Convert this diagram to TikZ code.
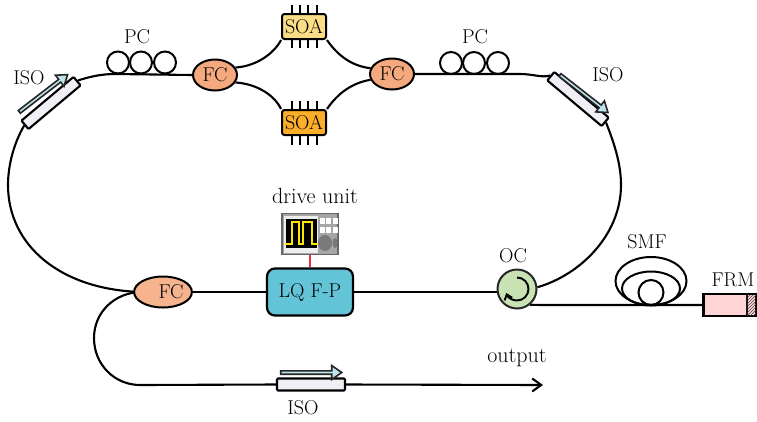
\documentclass[tikz,border=0pt]{standalone}
\usetikzlibrary{shapes.arrows,shapes.geometric,patterns,arrows.meta,backgrounds}
\definecolor{fcfill}{HTML}{F4A97F}
\definecolor{isofill}{HTML}{F2EEF6}
\definecolor{arrowfill}{HTML}{BFE3EC}
\definecolor{fpfill}{HTML}{63C4D8}
\definecolor{ocfill}{HTML}{C9E2B3}
\definecolor{soaone}{HTML}{FBDD85}
\definecolor{soatwo}{HTML}{FBAE2A}
\definecolor{redline}{HTML}{E8303A}
\tikzset{
 fiber/.style={line width=2.1pt,draw=black},
 lab/.style={font=\fontsize{20}{22}\selectfont,text=black,inner sep=0pt},
 widelab/.style={font=\fontsize{22}{24}\selectfont,text=black,inner sep=0pt},
 coupler/.style={ellipse,draw=black,line width=2pt,fill=fcfill,minimum width=44pt,minimum height=31pt,inner sep=0pt,font=\fontsize{20}{22}\selectfont,text=black},
 soa/.style={rectangle,rounded corners=2.5pt,draw=black,line width=2pt,minimum width=44pt,minimum height=25pt,inner sep=0pt,font=\fontsize{20}{22}\selectfont,text=black},
 pin/.style={line width=2pt,draw=black},
 isobody/.style={rectangle,draw=black,line width=2.1pt,fill=isofill,rounded corners=1pt,minimum height=11pt,inner sep=0pt},
 isoarrow/.style={single arrow,draw=black!85,line width=1.6pt,fill=arrowfill,inner sep=0pt,minimum width=14pt,single arrow head extend=2.5pt,single arrow tip angle=70,shape border uses incircle=false},
 pcloop/.style={circle,draw=black,line width=2pt,minimum size=22pt,inner sep=0pt},
}
\begin{document}
\begin{tikzpicture}[x=1pt,y=-1pt]
\useasboundingbox (0,0) rectangle (757,421);
% couplers and amplifiers
\node[coupler] (fca) at (215,75) {FC};
\node[coupler] (fcb) at (392,74) {FC};
\node[coupler,fill=fcfill!88!white] (fcc) at (163,292) {\hspace*{16pt}FC};
\node[soa,fill=soaone] (soaa) at (304,26.5) {SOA};
\node[soa,fill=soatwo] (soab) at (304,122.5) {SOA};
\foreach \x in {292,300,308,317}{
  \draw[pin] (\x,5) -- (\x,14);
  \draw[pin] (\x,39) -- (\x,48);
  \draw[pin] (\x,101) -- (\x,110);
  \draw[pin] (\x,135) -- (\x,145);
}
% isolators
\node[isobody,minimum width=68pt,rotate=40] (isoa) at (51,103) {};
\node[isobody,minimum width=71pt,rotate=-40] (isob) at (578,99) {};
\node[isobody,minimum width=68pt,minimum height=12pt] (isoc) at (311,384.5) {};
\node[isoarrow,minimum height=61pt,rotate=37.6] (arra) at (42.5,94) {};
\node[isoarrow,minimum height=61pt,rotate=-38] (arrb) at (583,93) {};
\node[isoarrow,minimum height=61pt] (arrc) at (310,372.5) {};
% polarization controllers
\node[pcloop] (pa1) at (118,62.5) {};
\node[pcloop] (pa2) at (141,62.5) {};
\node[pcloop] (pa3) at (165,62.5) {};
\node[pcloop] (pb1) at (451,63) {};
\node[pcloop] (pb2) at (474,63) {};
\node[pcloop] (pb3) at (498,63) {};
% modulator
\node[rectangle,rounded corners=8pt,draw=black,line width=2.2pt,fill=fpfill,minimum width=86pt,minimum height=47pt,inner sep=0pt,font=\fontsize{20}{22}\selectfont,text=black] (fp) at (310,292) {LQ F-P};
% drive unit
\node[rectangle,draw=black!60,line width=1.8pt,fill=black!35,minimum width=56pt,minimum height=41pt,inner sep=0pt] (drv) at (310,234) {};
\draw[redline,line width=2.4pt] (drv.south) -- (fp.north);
\fill[black!7] (284,215.5) rectangle (318,252.5);
\fill[black] (286,219) rectangle (317,248);
\foreach \x in {322,328.5,335}\foreach \y in {220.5,230}{
  \fill[white] (\x-2.5,\y-3) rectangle (\x+2.5,\y+3);}
\fill[black!52] (325,243) ellipse (7 and 8);
\fill[black!52] (335,243) ellipse (2.5 and 5);
\draw[yellow!90!orange,line width=2.2pt] (284.5,244) -- (292,244) -- (292,222) -- (299,222) -- (299,244) -- (303,244) -- (303,222) -- (312,222) -- (312,244) -- (318,244);
% circulator
\node[circle,draw=black!85,line width=2pt,fill=ocfill,minimum size=39pt,inner sep=0pt] (oc) at (517,289) {};
\draw[black,line width=1.9pt,-{Straight Barb[length=5pt,width=8pt]}] (517,277.5) arc[start angle=-90,end angle=160,radius=11.5];
% SMF coil
\node[ellipse,draw=black,line width=2pt,minimum width=71pt,minimum height=48pt,inner sep=0pt] (smfa) at (651,281) {};
\node[ellipse,draw=black,line width=2pt,minimum width=58pt,minimum height=34pt,inner sep=0pt] (smfb) at (651,288.5) {};
\node[circle,draw=black,line width=2pt,minimum size=25pt,inner sep=0pt] (smfc) at (651,292.5) {};
% mirror
\node[rectangle,draw=black,line width=2.2pt,fill=red!17,minimum width=53pt,minimum height=22pt,inner sep=0pt] (frm) at (730,305) {};
\fill[pattern=north east lines,pattern color=black!70] (747,295) rectangle (756,315);
\draw[black!90,line width=1.3pt] (747,295) -- (747,315);
% fibres
\coordinate (pca) at (115,74);
\coordinate (pcb) at (520,74);
\coordinate (lstart) at (142,292);
\coordinate (lleft) at (8,185);
\coordinate (rright) at (621,185);
\coordinate (dleft) at (94,338);
\coordinate (dbot) at (140,385);
\coordinate (outp) at (543,385);
\coordinate (smfl) at (560,305);
\begin{scope}[on background layer]
\draw[fiber] (isoa.east) .. controls (92,76) and (103,74) .. (pca) -- (fca.west);
\draw[fiber] (isoa.west) .. controls (14,143) and (8,165) .. (lleft) .. controls (8,245) and (60,290) .. (lstart) -- (fcc.west);
\draw[fiber] (fca.20) .. controls (258,66) and (275,52) .. (soaa.south west);
\draw[fiber] (fca.-20) .. controls (258,84) and (275,96) .. (soab.north west);
\draw[fiber] (soaa.south east) .. controls (338,56) and (352,66) .. (fcb.165);
\draw[fiber] (soab.north east) .. controls (338,93) and (352,83) .. (fcb.195);
\draw[fiber] (fcb.east) -- (pcb) .. controls (533,74) and (542,78) .. (isob.west);
\draw[fiber] (isob.east) .. controls (615,145) and (621,165) .. (rright) .. controls (621,235) and (580,275) .. (oc.5);
\draw[fiber] (fcc.east) -- (fp.west);
\draw[fiber] (fp.east) -- (oc.west |- fp.east);
\draw[fiber] (lstart) .. controls (115,292) and (94,312) .. (dleft) .. controls (94,365) and (115,385) .. (dbot) -- (isoc.west);
\draw[fiber,-{Straight Barb[length=9pt,width=13pt]}] (isoc.east) -- (outp);
\draw[fiber] (oc.-50) .. controls (535,305) and (545,305) .. (smfl) -- (frm.west);
\end{scope}
% labels
\node[lab] (l1) at (137,37) {PC};
\node[lab] (l2) at (475,37) {PC};
\node[lab] (l3) at (29,78) {ISO};
\node[lab] (l4) at (608,75) {ISO};
\node[lab] (l5) at (647,242) {SMF};
\node[lab] (l6) at (513,256) {OC};
\node[lab] (l7) at (733,280) {FRM};
\node[widelab] (l8) at (315,196) {drive unit};
\node[lab] (l9) at (303,408) {ISO};
\node[widelab] (l10) at (517,358) {output};
\end{tikzpicture}
\end{document}
